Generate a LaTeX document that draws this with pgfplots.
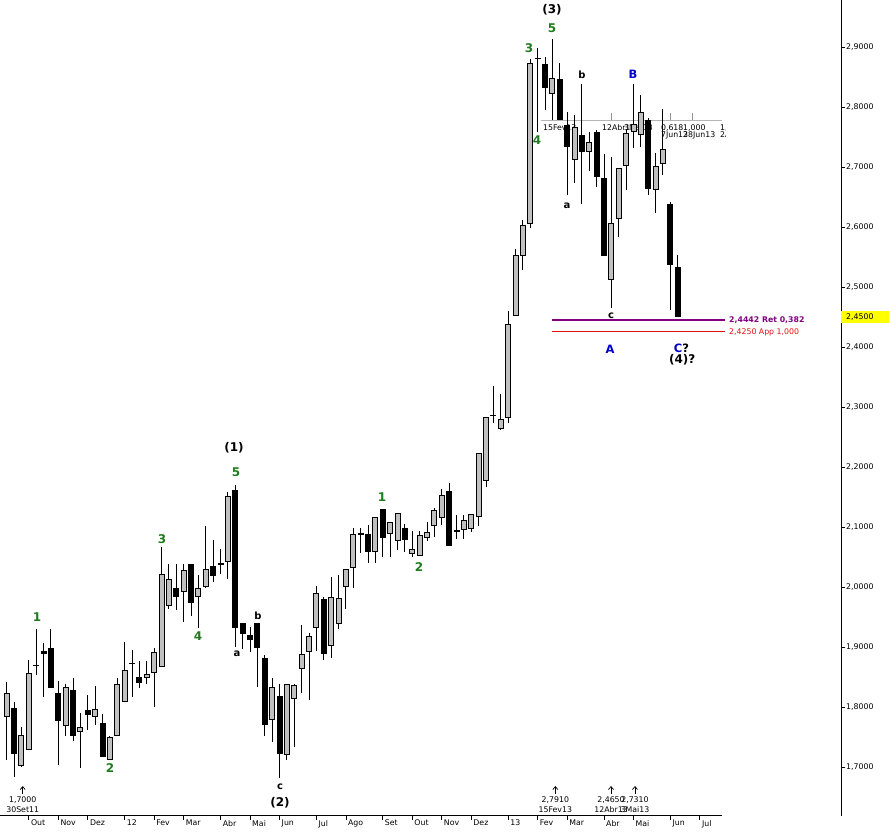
\documentclass[border=0pt]{standalone}
\usepackage{fontspec}
\setmainfont{DejaVu Sans}
\usepackage{pgfplots}
\usepackage{pgfplotstable}
\pgfplotsset{compat=1.18}
\usetikzlibrary{arrows.meta}

\definecolor{candlegray}{HTML}{C0C0C0}
\definecolor{wavegreen}{HTML}{1E7B1E}
\definecolor{waveblue}{HTML}{0000C8}
\definecolor{retpurple}{HTML}{800080}
\definecolor{appred}{HTML}{E01010}
\definecolor{fibgray}{HTML}{B4B4B4}
\definecolor{fibtick}{HTML}{909090}
\definecolor{pricebox}{HTML}{FFFF00}

\newcommand\tinyfont{\fontsize{7.8}{8}\selectfont}
\newcommand\wavefont{\fontsize{12}{12}\selectfont\bfseries}
\newcommand\subfont{\fontsize{10}{10}\selectfont\bfseries}
\newcommand\abcfont{\fontsize{11.5}{11.5}\selectfont\bfseries}

% weekly candles, k = week number (k = 2 is the week of 30 Sep 2011)
% rising weeks: o = open (body bottom), c = close (body top)
\pgfplotstableread{
k o h l c
0 1.784 1.842 1.712 1.823
2 1.702 1.766 1.700 1.754
3 1.728 1.878 1.728 1.856
8 1.769 1.839 1.751 1.833
10 1.758 1.790 1.698 1.766
12 1.783 1.835 1.770 1.797
14 1.712 1.752 1.712 1.750
15 1.751 1.848 1.751 1.838
16 1.808 1.908 1.808 1.861
19 1.849 1.876 1.839 1.855
20 1.857 1.899 1.800 1.891
21 1.866 2.066 1.866 2.021
22 1.968 2.039 1.963 2.014
24 1.991 2.039 1.941 2.028
26 1.984 2.020 1.931 1.999
27 2.000 2.101 1.998 2.030
30 2.041 2.158 2.014 2.152
36 1.779 1.848 1.741 1.833
38 1.720 1.838 1.712 1.838
39 1.814 1.839 1.734 1.836
40 1.864 1.936 1.824 1.889
41 1.892 1.924 1.812 1.918
42 1.931 2.002 1.894 1.990
44 1.902 2.017 1.881 1.984
45 1.938 2.020 1.930 1.981
46 2.000 2.030 1.963 2.030
47 2.031 2.098 1.999 2.089
50 2.059 2.116 2.040 2.116
52 2.089 2.108 2.050 2.108
53 2.077 2.124 2.062 2.124
55 2.055 2.093 2.050 2.064
56 2.051 2.093 2.051 2.086
57 2.081 2.109 2.076 2.092
58 2.101 2.131 2.084 2.128
59 2.115 2.164 2.104 2.153
62 2.095 2.120 2.080 2.112
63 2.096 2.121 2.091 2.121
64 2.116 2.224 2.101 2.224
65 2.176 2.284 2.167 2.284
67 2.263 2.321 2.261 2.280
68 2.281 2.460 2.273 2.438
69 2.452 2.564 2.452 2.553
70 2.552 2.611 2.528 2.603
71 2.605 2.880 2.599 2.874
74 2.822 2.914 2.778 2.848
77 2.712 2.787 2.673 2.767
79 2.725 2.759 2.694 2.742
82 2.511 2.717 2.465 2.606
83 2.613 2.698 2.584 2.698
84 2.702 2.764 2.662 2.756
85 2.759 2.838 2.731 2.771
86 2.753 2.820 2.733 2.792
88 2.662 2.724 2.623 2.702
89 2.705 2.796 2.687 2.730
}\upcandles

% falling weeks and dojis: o = open (body top), c = close (body bottom)
\pgfplotstableread{
k o h l c
1 1.798 1.809 1.684 1.721
4 1.8708 1.930 1.853 1.8692
5 1.893 1.906 1.817 1.889
6 1.898 1.930 1.831 1.831
7 1.823 1.843 1.704 1.777
9 1.828 1.848 1.744 1.751
11 1.795 1.820 1.761 1.787
13 1.774 1.788 1.716 1.716
17 1.8738 1.895 1.817 1.8722
18 1.850 1.876 1.831 1.840
23 1.998 2.038 1.962 1.983
25 2.039 2.039 1.952 1.974
28 2.035 2.078 2.008 2.019
29 2.0398 2.063 2.021 2.0382
31 2.162 2.170 1.900 1.931
32 1.940 1.940 1.897 1.921
33 1.920 1.934 1.891 1.911
34 1.940 1.940 1.834 1.899
35 1.881 1.887 1.751 1.770
37 1.819 1.839 1.681 1.722
43 1.980 1.983 1.878 1.888
48 2.0898 2.098 2.056 2.0882
49 2.089 2.104 2.040 2.059
51 2.130 2.130 2.050 2.081
54 2.099 2.105 2.059 2.078
60 2.160 2.174 2.069 2.069
61 2.095 2.120 2.080 2.091
66 2.2868 2.335 2.273 2.2852
72 2.8818 2.899 2.759 2.8802
73 2.872 2.884 2.795 2.831
75 2.847 2.874 2.779 2.779
76 2.770 2.792 2.653 2.733
78 2.753 2.839 2.639 2.725
80 2.758 2.761 2.667 2.684
81 2.681 2.721 2.551 2.551
87 2.779 2.782 2.653 2.663
90 2.638 2.641 2.462 2.537
91 2.533 2.553 2.450 2.450
}\downcandles

% candle parts are drawn as explicit error bars (no point marks)
\pgfplotsset{
  wick/.style={draw=none, mark=none, forget plot,
    error bars/.cd, y dir=both, y explicit, error mark=none,
    error bar style={draw=black, line width=1pt, solid}},
  body/.style={draw=none, mark=none, forget plot,
    error bars/.cd, y dir=both, y explicit, error mark=none,
    error bar style={draw=#1, line width=6pt, solid}},
  inner/.style={draw=none, mark=none, forget plot,
    error bars/.cd, y dir=both, y explicit, error mark=none,
    error bar style={draw=candlegray, line width=4pt, solid}},
}

\begin{document}
\begin{tikzpicture}
\path[use as bounding box] (0pt,-18pt) rectangle (889pt,816pt);
\begin{axis}[
  at={(0pt,0pt)}, anchor=south west,
  width=841pt, height=816pt, scale only axis,
  xmin=-0.909, xmax=113.14, ymin=1.61833, ymax=2.97833,
  clip=false,
  axis x line*=bottom, axis y line*=right,
  x axis line style={draw=none},
  y axis line style={-, line width=1pt, black},
  tick align=outside,
  major tick length=4pt,
  tick style={black, line width=0.8pt},
  xtick={3,7,11,16,20,24,29,33,37,42,46,51,55,59,63,68,72,76,81,85,90,94},
  xticklabels={Out,Nov,Dez,12,Fev,Mar,Abr,Mai,Jun,Jul,Ago,Set,Out,Nov,Dez,13,Fev,Mar,Abr,Mai,Jun,Jul},
  xticklabel style={font=\tinyfont, anchor=north west, inner sep=0pt, xshift=2pt},
  ytick={1.7,1.8,1.9,2.0,2.1,2.2,2.3,2.4,2.5,2.6,2.7,2.8,2.9},
  yticklabel style={font=\tinyfont, anchor=west, inner sep=0pt, xshift=1pt},
  /pgf/number format/.cd, fixed, fixed zerofill, precision=4, use comma, 1000 sep={}, assume math mode=true,
]

% Fibonacci time extension (15Fev13 - 12Abr13 - 3Mai13)
\draw[fibgray, line width=1pt] (axis cs:72.46,2.7783) -- (axis cs:97,2.7783);
\draw[fibtick, line width=0.8pt] (axis cs:74,2.7783) -- (axis cs:74,2.79);
\draw[fibtick, line width=0.8pt] (axis cs:82,2.7783) -- (axis cs:82,2.79);
\draw[fibtick, line width=0.8pt] (axis cs:85,2.7783) -- (axis cs:85,2.79);
\draw[fibtick, line width=0.8pt] (axis cs:90,2.7783) -- (axis cs:90,2.79);
\draw[fibtick, line width=0.8pt] (axis cs:93,2.7783) -- (axis cs:93,2.79);
\node[anchor=west, inner sep=0pt, font=\tinyfont, xshift=-9.5pt] at (axis cs:74,2.765) {15Fev13};
\node[anchor=west, inner sep=0pt, font=\tinyfont, xshift=-9.5pt] at (axis cs:82,2.765) {12Abr13};
\node[anchor=west, inner sep=0pt, font=\tinyfont, xshift=-9.5pt] at (axis cs:85,2.765) {3Mai13};
\node[anchor=west, inner sep=0pt, font=\tinyfont, xshift=-9.5pt] at (axis cs:90,2.765) {0,618};
\node[anchor=west, inner sep=0pt, font=\tinyfont, xshift=-9.5pt] at (axis cs:93,2.765) {1,000};
\node[anchor=west, inner sep=0pt, font=\tinyfont, xshift=-9.5pt] at (axis cs:90,2.7525) {7Jun13};
\node[anchor=west, inner sep=0pt, font=\tinyfont, xshift=-9.5pt] at (axis cs:93,2.7525) {28Jun13};
\coordinate (fibA) at (axis cs:98,2.765);
\coordinate (fibB) at (axis cs:98,2.7525);

% retracement and projection levels
\draw[retpurple, line width=2pt] (axis cs:74,2.4442) -- (axis cs:97.4,2.4442);
\draw[appred, line width=1pt] (axis cs:74,2.4250) -- (axis cs:97.4,2.4250);
\node[anchor=west, inner sep=0pt, font=\tinyfont\bfseries, text=retpurple, xshift=7pt] at (axis cs:97,2.4442) {2,4442 Ret 0,382};
\node[anchor=west, inner sep=0pt, font=\tinyfont, text=appred, xshift=7pt] at (axis cs:97,2.4250) {2,4250 App 1,000};

% candles: wicks, then bodies
\addplot[wick] table[x=k, y expr={(\thisrow{h}+\thisrow{l})/2}, y error expr={(\thisrow{h}-\thisrow{l})/2}] {\upcandles};
\addplot[wick] table[x=k, y expr={(\thisrow{h}+\thisrow{l})/2}, y error expr={(\thisrow{h}-\thisrow{l})/2}] {\downcandles};
\addplot[body=black] table[x=k, y expr={(\thisrow{o}+\thisrow{c})/2}, y error expr={abs(\thisrow{c}-\thisrow{o})/2}] {\upcandles};
\addplot[inner] table[x=k, y expr={(\thisrow{o}+\thisrow{c})/2}, y error expr={max(abs(\thisrow{c}-\thisrow{o})/2-0.00167,0)}] {\upcandles};
\addplot[body=black] table[x=k, y expr={(\thisrow{o}+\thisrow{c})/2}, y error expr={abs(\thisrow{c}-\thisrow{o})/2}] {\downcandles};

% Elliott wave counts
\node[font=\wavefont, text=wavegreen, inner sep=0pt] at (axis cs:4.11,1.950) {1};
\node[font=\wavefont, text=wavegreen, inner sep=0pt] at (axis cs:14.01,1.6983) {2};
\node[font=\wavefont, text=wavegreen, inner sep=0pt] at (axis cs:21.06,2.080) {3};
\node[font=\wavefont, text=wavegreen, inner sep=0pt] at (axis cs:25.94,1.9183) {4};
\node[font=\wavefont, text=wavegreen, inner sep=0pt] at (axis cs:31.1,2.1917) {5};
\node[font=\wavefont, inner sep=0pt] at (axis cs:30.83,2.2317) {(1)};
\node[font=\subfont, inner sep=0pt] at (axis cs:31.23,1.8883) {a};
\node[font=\subfont, inner sep=0pt] at (axis cs:34.08,1.9517) {b};
\node[font=\subfont, inner sep=0pt] at (axis cs:37.06,1.6667) {c};
\node[font=\wavefont, inner sep=0pt] at (axis cs:37.06,1.640) {(2)};
\node[font=\wavefont, text=wavegreen, inner sep=0pt] at (axis cs:50.9,2.150) {1};
\node[font=\wavefont, text=wavegreen, inner sep=0pt] at (axis cs:55.91,2.0333) {2};
\node[font=\wavefont, text=wavegreen, inner sep=0pt] at (axis cs:70.83,2.8983) {3};
\node[font=\wavefont, text=wavegreen, inner sep=0pt] at (axis cs:71.92,2.745) {4};
\node[font=\wavefont, text=wavegreen, inner sep=0pt] at (axis cs:73.95,2.9317) {5};
\node[font=\wavefont, inner sep=0pt] at (axis cs:73.95,2.9617) {(3)};
\node[font=\subfont, inner sep=0pt] at (axis cs:75.98,2.635) {a};
\node[font=\subfont, inner sep=0pt] at (axis cs:78.02,2.8533) {b};
\node[font=\subfont, inner sep=0pt] at (axis cs:81.95,2.4517) {c};
\node[font=\abcfont, text=waveblue, inner sep=0pt] at (axis cs:84.93,2.855) {B};
\node[font=\abcfont, text=waveblue, inner sep=0pt] at (axis cs:81.82,2.3967) {A};
\node[font=\abcfont, inner sep=0pt] at (axis cs:91.5,2.3983) {\textcolor{waveblue}{C}?};
\node[font=\wavefont, inner sep=0pt] at (axis cs:91.6,2.3783) {(4)?};

% turning points marked along the bottom
\draw[-{Straight Barb[length=3pt,width=5pt]}, line width=0.7pt] (axis cs:2.17,1.655) -- (axis cs:2.17,1.6683);
\draw[-{Straight Barb[length=3pt,width=5pt]}, line width=0.7pt] (axis cs:74.4,1.655) -- (axis cs:74.4,1.6683);
\draw[-{Straight Barb[length=3pt,width=5pt]}, line width=0.7pt] (axis cs:81.95,1.655) -- (axis cs:81.95,1.6683);
\draw[-{Straight Barb[length=3pt,width=5pt]}, line width=0.7pt] (axis cs:85.2,1.655) -- (axis cs:85.2,1.6683);
\node[font=\tinyfont, inner sep=0pt] at (axis cs:2.17,1.645) {1,7000};
\node[font=\tinyfont, inner sep=0pt] at (axis cs:2.17,1.6292) {30Set11};
\node[font=\tinyfont, inner sep=0pt] at (axis cs:74.4,1.645) {2,7910};
\node[font=\tinyfont, inner sep=0pt] at (axis cs:74.4,1.6292) {15Fev13};
\node[font=\tinyfont, inner sep=0pt] at (axis cs:81.95,1.645) {2,4650};
\node[font=\tinyfont, inner sep=0pt] at (axis cs:81.95,1.6292) {12Abr13};
\node[font=\tinyfont, inner sep=0pt] at (axis cs:85.2,1.645) {2,7310};
\node[font=\tinyfont, inner sep=0pt] at (axis cs:85.2,1.6292) {3Mai13};

% last price marker and time axis line
\fill[pricebox] (axis cs:113.14,2.46) rectangle (axis cs:119.7,2.44);
\node[anchor=west, inner sep=0pt, font=\tinyfont, xshift=5pt] at (axis cs:113.14,2.45) {2,4500};
\draw[black, line width=1pt] (axis cs:-0.909,1.61833) -- (axis cs:97,1.61833);
\end{axis}
\begin{scope}
\clip (0pt,0pt) rectangle (725pt,816pt);
\node[anchor=west, inner sep=0pt, font=\tinyfont, xshift=-9.5pt] at (fibA) {1,618};
\node[anchor=west, inner sep=0pt, font=\tinyfont, xshift=-9.5pt] at (fibB) {2Ago13};
\end{scope}
\end{tikzpicture}
\end{document}
